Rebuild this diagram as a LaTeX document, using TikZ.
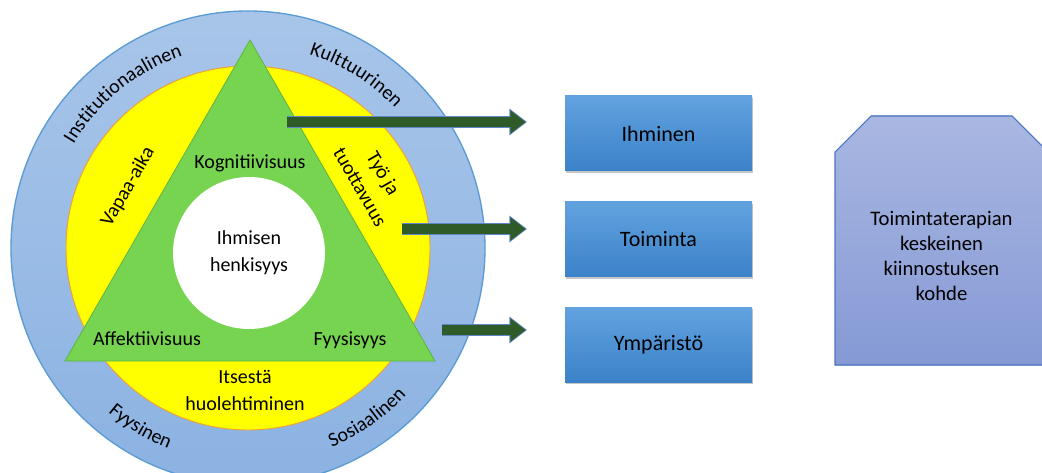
\documentclass[tikz,border=0pt]{standalone}
\usepackage{fontspec}
\setmainfont{Carlito}
\usetikzlibrary{positioning,shadows,arrows.meta,decorations.text}

\definecolor{ringblue}{HTML}{A8C5E9}
\definecolor{ringbluedark}{HTML}{8BB2E2}
\definecolor{ringedge}{HTML}{5B9BD5}
\definecolor{ringyellow}{HTML}{FFFF00}
\definecolor{yellowedge}{HTML}{E9A23B}
\definecolor{trigreen}{HTML}{76D451}
\definecolor{triedge}{HTML}{5EB343}
\definecolor{arrowgreen}{HTML}{2E5B28}
\definecolor{arrowrimc}{HTML}{5E86C8}
\definecolor{boxtop}{HTML}{62A2DF}
\definecolor{boxbottom}{HTML}{3B82C9}
\definecolor{focustop}{HTML}{A9B7E1}
\definecolor{focusbottom}{HTML}{8599D5}
\definecolor{focusedge}{HTML}{4A74C6}

\newcommand{\ringfont}{\fontsize{15}{18}\selectfont}

\begin{document}
\begin{tikzpicture}[
  x=0.75pt, y=0.75pt,
  node distance=22.5pt,
  every node/.style={font=\fontsize{15}{20}\selectfont, align=center, inner sep=0pt},
  topic/.style={rectangle, minimum width=140.25pt, minimum height=56.25pt, top color=boxtop, bottom color=boxbottom, drop shadow={shadow xshift=0.6pt, shadow yshift=-1.6pt, opacity=0.45}, font=\fontsize{16.5}{20}\selectfont},
  focusbox/.style={top color=focustop, bottom color=focusbottom, draw=focusedge, line width=0.8pt},
  arrowrim/.style={line width=9.6pt, draw=arrowrimc, -{Triangle[length=13.2pt, width=19.2pt]}},
  arrowbody/.style={line width=8.1pt, draw=arrowgreen, shorten >=1.1pt, -{Triangle[length=11.4pt, width=16.8pt]}},
  ringtext/.style={decorate, decoration={text along path, text align=center, text={|\ringfont|#1}}}
  ]

\useasboundingbox (0,0) rectangle (1042,472);
\clip (0,0) rectangle (1042,472);

% rings
\coordinate (c) at (248,224);
\shade[top color=ringblue, bottom color=ringbluedark] (c) circle[radius=237];
\draw[ringedge, line width=1pt] (c) circle[radius=237];
\filldraw[fill=ringyellow, draw=yellowedge, line width=0.7pt] (c) circle[radius=182];

% triangle
\coordinate (apex) at (250,432);
\coordinate (right) at (435,111);
\coordinate (left) at (65,111);
\filldraw[fill=trigreen, draw=triedge, line width=0.6pt] (apex) -- (right) -- (left) -- cycle;
\node[circle, fill=white, minimum size=114pt] (henkisyys) at (249,219) {Ihmisen\\henkisyys};

\node (kogn) at (250,309) {Kognitiivisuus};
\node (affekt) at (147,133) {Affektiivisuus};
\node (fyys) at (350,132) {Fyysisyys};
\node (itse) at (245,81.5) {Itsestä\\huolehtiminen};
\node[rotate=60] (vapaa) at (128,285) {Vapaa-aika};
\node[rotate=-60] (tyo) at (372,292) {Työ ja\\tuottavuus};

% outer ring labels
\path[ringtext=Institutionaalinen] (c) ++(169:203) arc[start angle=169, end angle=89, radius=203];
\path[ringtext=Kulttuurinen] (c) ++(98:203) arc[start angle=98, end angle=18, radius=203];
\path[ringtext=Fyysinen] (c) ++(199:216) arc[start angle=199, end angle=279, radius=216];
\path[ringtext=Sosiaalinen] (c) ++(265:216) arc[start angle=265, end angle=345, radius=216];

% boxes
\node[topic] (ihminen) at (658.5,338.5) {Ihminen};
\node[topic, below=of ihminen] (toiminta) {Toiminta};
\node[topic, below=of toiminta] (ymparisto) {Ympäristö};
\filldraw[focusbox] (835,107) -- (835,320) -- (871,356) -- (1012,356) -- (1048,320) -- (1048,107) -- cycle;
\node[font=\fontsize{15.5}{18.75}\selectfont] (kohde) at (941.5,216.5) {Toimintaterapian\\keskeinen\\kiinnostuksen\\kohde};

% arrows
\coordinate (s1) at (287,350);
\coordinate (e1) at (527,350);
\coordinate (s2) at (402,243);
\coordinate (e2) at (527,243);
\coordinate (s3) at (442,142);
\coordinate (e3) at (527,142);
\foreach \s/\e in {s1/e1, s2/e2, s3/e3} {
  \draw[arrowrim] (\s) -- (\e);
  \draw[arrowbody] (\s) -- (\e);
}

\end{tikzpicture}
\end{document}
